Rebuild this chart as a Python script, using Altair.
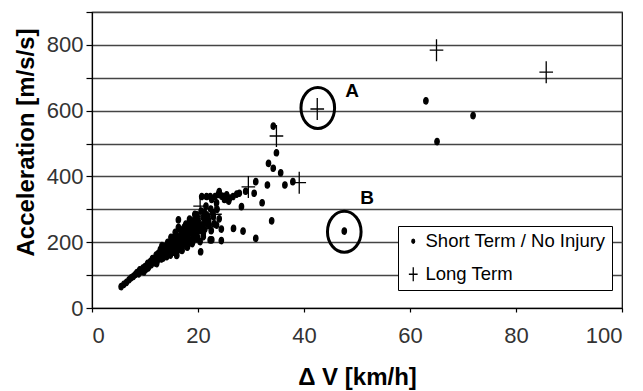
import altair as alt
import pandas as pd

SHORT = "Short Term / No Injury"
LONG = "Long Term"

short_x = [5.5, 6.0, 6.5, 7.0, 7.4, 7.8, 8.2, 8.5, 8.8, 9.0, 9.3, 9.6, 10.0, 10.2, 10.5, 10.8,
           11.0, 11.2, 11.5, 11.8, 12.0, 12.1, 12.3, 12.5, 12.7, 13.0, 13.1, 13.3, 13.5, 13.7,
           14.0, 14.1, 14.2, 14.5, 14.6, 14.8, 15.0, 15.1, 15.3, 15.5, 15.6, 15.8, 16.0, 16.1,
           16.2, 16.3, 16.5, 16.6, 16.8, 17.0, 17.1, 17.3, 17.5, 17.6, 17.8, 18.0, 18.1, 18.2,
           18.5, 18.6, 18.8, 19.0, 19.1, 19.2, 19.5, 19.6, 19.8, 19.8, 20.0, 20.1, 20.3, 20.4,
           20.5, 20.7, 21.0, 21.0, 21.1, 21.0, 21.2, 21.6, 21.6, 21.8, 21.9, 22.0, 22.3, 22.3,
           22.4, 22.6, 22.6, 22.9, 23.0, 23.2, 23.5, 23.5, 23.8, 24.0, 24.0, 24.4, 24.4, 24.5,
           24.8, 25.0, 25.4, 25.8, 26.0, 26.6, 26.7, 27.3, 27.8, 28.2, 28.5, 29.0, 30.6, 30.9,
           30.9, 32.1, 33.1, 33.3, 33.9, 34.2, 34.2, 34.8, 35.6, 36.4, 37.9, 47.6, 63.0, 65.1,
           71.9,
           9.8, 10.6, 11.4, 12.2, 12.9, 13.4, 13.9, 14.4, 15.2, 15.9, 16.4, 16.9, 17.2, 17.9,
           18.3, 18.9, 19.3, 19.7, 20.2, 20.8, 21.4, 22.1, 22.8, 23.6, 17.4, 18.7, 16.7, 15.4,
           14.3, 13.2,
           14.9, 15.7, 16.3, 17.7, 18.4, 19.4, 20.6, 21.5, 16.0, 17.0, 18.0, 19.0, 19.9, 21.3,
           22.5]
short_y = [65, 72, 78, 86, 92, 96, 102, 108, 104, 116, 112, 121, 126, 118, 136, 128,
           141, 132, 146, 138, 151, 161, 143, 166, 155, 171, 149, 160, 181, 166,
           176, 156, 191, 171, 186, 161, 196, 179, 206, 186, 169, 201, 211, 191,
           176, 268, 216, 199, 186, 221, 206, 231, 213, 196, 226, 241, 219, 201,
           246, 231, 211, 256, 236, 221, 261, 246, 229, 283, 271, 251, 236, 202,
           171, 339, 276, 227, 258, 217, 291, 283, 339, 258, 278, 266, 207, 339,
           301, 207, 330, 278, 256, 339, 252, 320, 345, 354, 271, 240, 205, 340,
           339, 330, 344, 325, 334, 339, 242, 346, 349, 308, 234, 355, 349, 384,
           212, 320, 374, 440, 265, 425, 553, 472, 411, 374, 384, 234, 630, 506,
           585,
           110, 122, 150, 135, 178, 152, 188, 164, 170, 222, 182, 230, 190, 205,
           250, 196, 268, 210, 258, 245, 270, 250, 290, 300, 246, 262, 238, 214,
           200, 190,
           215, 230, 245, 255, 270, 285, 295, 310, 160, 175, 185, 200, 215, 240,
           235]

long_x = [20.4, 23.2, 29.5, 34.8, 39.1, 42.5, 65.0, 85.7]
long_y = [310, 285, 368, 523, 381, 605, 784, 717]

# highlighted cases (circled) and their labels
mark_labels = ["A", "B"]
mark_x = [42.6, 47.6]
mark_y = [608, 232]
label_x = [49.1, 51.9]
label_y = [660, 334]

x_ticks = [0, 20, 40, 60, 80, 100]
y_ticks = [0, 100, 200, 300, 400, 500, 600, 700, 800, 900]

FONT = "Liberation Sans"
DOT = "M0,-0.29A0.2,0.29 0 1,1 0,0.29A0.2,0.29 0 1,1 0,-0.29Z"
PLUS = "M-0.62,0H0.62M0,-1V1"
RING = "M0,-1A0.82,1 0 1,1 0,1A0.82,1 0 1,1 0,-1Z"

pts = pd.DataFrame({
    "dv": short_x + long_x,
    "acc": short_y + long_y,
    "type": [SHORT] * len(short_x) + [LONG] * len(long_x),
})
marks = pd.DataFrame({"dv": mark_x, "acc": mark_y})
labels = pd.DataFrame({"dv": label_x, "acc": label_y, "t": mark_labels})

xscale = alt.Scale(domain=[0, 100], nice=False)
yscale = alt.Scale(domain=[0, 900], nice=False)

xaxis = alt.Axis(values=x_ticks, tickCount=20, title="Δ V [km/h]", grid=False,
                 tickSize=4, labelPadding=13, titleY=76, titleBaseline="alphabetic")
yaxis = alt.Axis(values=y_ticks, tickCount=30, title="Acceleration [m/s/s]",
                 labelExpr="datum.value % 200 == 0 && datum.value < 900 ? datum.label : ''",
                 tickSize=6, labelPadding=3, grid=True, gridColor="#444", gridWidth=1.3,
                 titleAngle=270, titleX=-59, titleY=130, titleAlign="center",
                 titleBaseline="alphabetic")

dom = [SHORT, LONG]
points = alt.Chart(pts).mark_point(filled=False, strokeWidth=1.3,
                                   opacity=1, size=484).encode(
    x=alt.X("dv:Q", scale=xscale, axis=xaxis),
    y=alt.Y("acc:Q", scale=yscale, axis=yaxis),
    shape=alt.Shape("type:N", scale=alt.Scale(domain=dom, range=[DOT, PLUS]),
                    legend=alt.Legend(title=None)),
    fill=alt.Fill("type:N", scale=alt.Scale(domain=dom, range=["black", "transparent"]),
                  legend=alt.Legend(title=None)),
    stroke=alt.Stroke("type:N", scale=alt.Scale(domain=dom, range=["black", "black"]),
                      legend=alt.Legend(title=None)),
)

rings = alt.Chart(marks).mark_point(shape=RING, size=1681, filled=False, color="black",
                                    strokeWidth=3, opacity=1).encode(
    x=alt.X("dv:Q", scale=xscale), y=alt.Y("acc:Q", scale=yscale))

texts = alt.Chart(labels).mark_text(font=FONT, fontSize=19, fontWeight="bold",
                                    color="black").encode(
    x=alt.X("dv:Q", scale=xscale), y=alt.Y("acc:Q", scale=yscale), text="t:N")

chart = alt.layer(points, rings, texts).properties(
    width=530, height=296,
    autosize=alt.AutoSizeParams(type="none"),
    padding={"left": 92, "top": 12, "right": 21, "bottom": 83},
    background="white",
).configure_view(stroke="black", strokeWidth=1.2).configure_axis(
    labelFont=FONT, labelFontSize=22, labelColor="#333", titleFont=FONT, titleFontSize=24,
    titleFontWeight="bold", titleColor="black", domainColor="black", domainWidth=1.2,
    tickColor="black", tickWidth=1.2,
).configure_legend(
    orient="none", legendX=306, legendY=214, strokeColor="black", fillColor="white",
    padding=6, labelFont=FONT, labelFontSize=18.5, labelColor="black", symbolSize=200,
    symbolStrokeWidth=1.3, rowPadding=13, labelOffset=3, labelLimit=400,
)

chart.save("out.html", embed_options={"renderer": "svg", "actions": False})
